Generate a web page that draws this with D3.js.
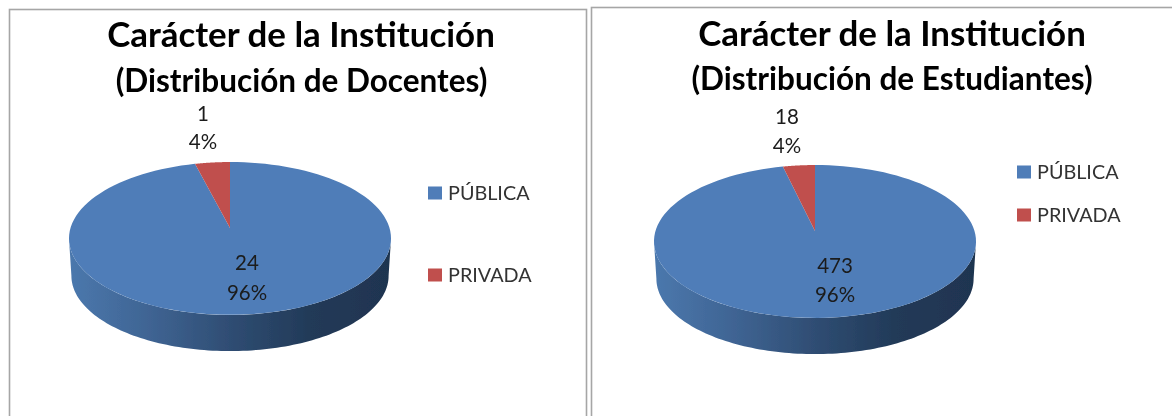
<!DOCTYPE html>
<html><head><meta charset="utf-8">
<script src="https://cdn.jsdelivr.net/npm/d3@7"></script>
<style>html,body{margin:0;padding:0;background:#fff}svg{display:block}text{font-family:Lato,"Open Sans",sans-serif}</style>
</head><body><svg id="c" width="1172" height="416"></svg>
<script>
const categories = ["PÚBLICA", "PRIVADA"];
const colors = ["#4f7db8", "#c0504d"];
const titleLine1 = "Carácter de la Institución";
const subtitleDocentes = "(Distribución de Docentes)";
const subtitleEstudiantes = "(Distribución de Estudiantes)";
const valuesDocentes = [24, 1];
const valuesEstudiantes = [473, 18];

const charts = [
 {sub: subtitleDocentes, values: valuesDocentes, frame:[9.5,9.5,577,420], cx:230, apex:228, titleX:301, t1:47, t2:92,
  labels:[[247,270,300],[203,121,149]], legendX:428, legendY:[193,275]},
 {sub: subtitleEstudiantes, values: valuesEstudiantes, frame:[591.5,7.5,600,420], cx:815, apex:231, titleX:892, t1:46, t2:90,
  labels:[[835,273,302],[787,124,153]], legendX:1017, legendY:[172,215]}
];
const svg = d3.select("#c");
const defs = svg.append("defs");
defs.append("filter").attr("id","soft").append("feGaussianBlur").attr("stdDeviation",0.45);
const g0 = svg.append("g").attr("filter","url(#soft)");
const color = d3.scaleOrdinal(categories, colors);
const pct = d3.format(".0%");
const K=0.137, R=159.5, H=75, DEPTH=37.5, SHRINK=0.985;
const proj=(c,a,s=1,dy=0)=>[c.cx+s*R*Math.sin(a)/(1+K*Math.cos(a)), c.apex+dy-s*H*Math.cos(a)/(1+K*Math.cos(a))];
const line=d3.line();
const samples=(a0,a1)=>d3.range(0,121).map(i=>a0+(a1-a0)*i/120);

charts.forEach((c,ci)=>{
  const g=g0.append("g");
  g.append("rect").attr("x",c.frame[0]).attr("y",c.frame[1]).attr("width",c.frame[2]).attr("height",c.frame[3])
    .attr("fill","#fff").attr("stroke","#a6a6a6").attr("stroke-width",1.6);
  g.append("text").attr("x",c.titleX).attr("y",c.t1).attr("text-anchor","middle").attr("font-size",34.9).attr("font-weight",700).attr("fill","#000").text(titleLine1);
  g.append("text").attr("x",c.titleX-(ci?0:-0.5)).attr("y",c.t2).attr("text-anchor","middle").attr("font-size",31.5).attr("font-weight",700).attr("fill","#000").text(c.sub);

  const gradId="wall"+ci;
  const grad=defs.append("linearGradient").attr("id",gradId);
  [[0,"#4b78ad"],[0.25,"#3f6493"],[0.5,"#2f4d73"],[0.75,"#223a58"],[1,"#1f3450"]].forEach(s=>grad.append("stop").attr("offset",s[0]).attr("stop-color",s[1]));

  // side wall: front half of the projected rim, extruded downward
  const ext=Math.acos(-K);
  const upper=samples(-ext,-2*Math.PI+ext).map(a=>proj(c,a));
  const lower=samples(-2*Math.PI+ext,-ext).map(a=>proj(c,a,SHRINK,DEPTH));
  g.append("path").attr("d",line(upper.concat(lower))+"Z").attr("fill",`url(#${gradId})`);

  const arcs=d3.pie().sort(null)(c.values);
  arcs.forEach((d,i)=>{
    const pts=[[c.cx,c.apex]].concat(samples(d.startAngle,d.endAngle).map(a=>proj(c,a)));
    g.append("path").attr("d",line(pts)+"Z").attr("fill",color(categories[i]));
  });
  const total=d3.sum(c.values);
  c.values.forEach((v,i)=>{
    const [x,y1,y2]=c.labels[i];
    g.append("text").attr("x",x).attr("y",y1).attr("text-anchor","middle").attr("font-size",20.5).attr("fill","#1a1a1a").text(v);
    g.append("text").attr("x",x).attr("y",y2).attr("text-anchor","middle").attr("font-size",20.5).attr("fill","#1a1a1a").text(pct(v/total));
    g.append("rect").attr("x",c.legendX).attr("y",c.legendY[i]-6.5).attr("width",14).attr("height",13).attr("fill",color(categories[i]));
    g.append("text").attr("x",c.legendX+20).attr("y",c.legendY[i]+7).attr("font-size",19.8).attr("fill","#333").text(categories[i]);
  });
});
</script></body></html>
